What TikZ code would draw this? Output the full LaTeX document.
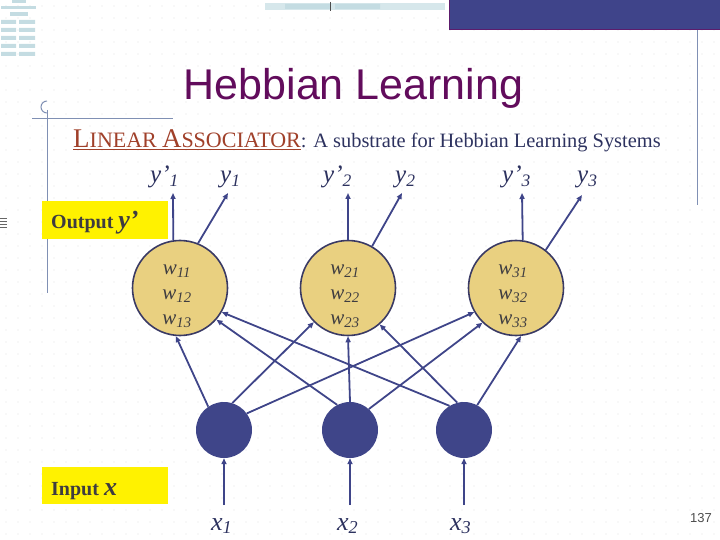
\documentclass[tikz,border=0pt]{standalone}
\usepackage{fontspec}
\setmainfont{Liberation Serif}
\newfontfamily\titlefont{Liberation Sans}
\usetikzlibrary{arrows.meta, positioning, calc}
\definecolor{netblue}{RGB}{63,69,137}
\definecolor{netedge}{RGB}{58,58,100}
\definecolor{wfill}{RGB}{233,208,128}
\definecolor{titlepurple}{RGB}{98,12,92}
\definecolor{subred}{RGB}{160,64,42}
\definecolor{subslate}{RGB}{45,50,95}
\definecolor{decoline}{RGB}{128,144,180}
\definecolor{labeltext}{RGB}{62,60,64}
\definecolor{griddot}{RGB}{226,226,226}
\definecolor{barblue}{RGB}{63,68,138}
\definecolor{barrim}{RGB}{92,28,108}
\definecolor{thumb}{RGB}{196,220,226}
\tikzset{
  outneuron/.style={circle, draw=netedge, line width=1.6pt, fill=wfill,
                    minimum size=95pt, inner sep=0pt},
  inneuron/.style={circle, fill=netblue, minimum size=56pt, inner sep=0pt},
  arrow/.style={-{Triangle[length=6pt, width=5pt]}, line width=1.8pt, draw=netblue},
  wlabel/.style={font=\fontsize{21}{25}\selectfont\itshape, text=labeltext,
                 align=center, inner sep=0pt},
  ylabel/.style={font=\fontsize{25}{25}\selectfont\itshape, text=subslate,
                 anchor=base west, inner sep=0pt},
  xlabel/.style={font=\fontsize{26}{26}\selectfont\itshape, text=subslate,
                 anchor=base west, inner sep=0pt},
  tagbox/.style={fill=yellow, minimum width=126pt, minimum height=37pt, inner sep=0pt},
  tagtext/.style={font=\fontsize{20}{20}\selectfont\bfseries, text=labeltext,
                  anchor=base west, inner sep=0pt},
}
\newcommand{\wsub}[1]{w\textsubscript{\itshape #1}}
\newcommand{\capbig}[1]{{\fontsize{27}{27}\selectfont #1}}
\newcommand{\capsmall}[1]{{\fontsize{22}{22}\selectfont #1}}

\begin{document}
\begin{tikzpicture}[x=1pt, y=-1pt]
  \useasboundingbox (0,0) rectangle (720,540);
  % dotted slide background
  \foreach \i in {0,...,59}
    \foreach \j in {0,...,44}
      \fill[griddot] (6+12*\i, 6+12*\j) circle (0.6);

  % slide template
  \fill[barblue, draw=barrim, line width=1pt] (449,-1) rectangle (721,30);
  \draw[decoline, line width=1pt] (697,30) -- (697,205);
  \draw[decoline, line width=1pt] (32,119) -- (173,119);
  \draw[decoline, line width=1pt] (47,110) -- (47,293);
  \draw[decoline, line width=1pt] (47,113) arc (90:270:6);
  % faded thumbnails
  \fill[thumb] (12,0) rectangle (26,3);
  \fill[thumb] (1,6) rectangle (36,9);
  \fill[thumb] (10,12) rectangle (28,16);
  \foreach \r in {20,28,36,44,52}
    \fill[thumb] (1,\r) rectangle (16,\r+4) (19,\r) rectangle (35,\r+4);
  \fill[thumb!70] (265,3) rectangle (445,10);
  \fill[thumb] (285,4) rectangle (330,9) (335,4) rectangle (380,9);
  \draw[black!70, line width=0.8pt] (330,2) -- (330,11);
  \foreach \r in {218,221,224,227}
    \draw[black!60, line width=0.8pt] (0,\r) -- (7,\r);

  % title and subtitle
  \node[font=\titlefont\fontsize{43}{43}\selectfont, text=titlepurple,
        anchor=base, inner sep=0pt] (title) at (353.5,100) {Hebbian Learning};
  \node[anchor=base west, inner sep=0pt, font=\fontsize{20.4}{20}\selectfont] (sub) at (73,148)
    {{\color{subred}\underline{\capbig{L}\capsmall{INEAR} \capbig{A}\capsmall{SSOCIATOR}}}%
     \textcolor{subslate}{: A substrate for Hebbian Learning Systems}};

  % output layer
  \node[outneuron] (out1) at (180,288) {};
  \node[outneuron] (out2) at (348,288) {};
  \node[outneuron] (out3) at (516,288) {};
  \node[wlabel] (w1) at ([shift={(-3,8)}]out1.center) {\wsub{11}\\\wsub{12}\\\wsub{13}};
  \node[wlabel] (w2) at ([shift={(-3,8)}]out2.center) {\wsub{21}\\\wsub{22}\\\wsub{23}};
  \node[wlabel] (w3) at ([shift={(-3,8)}]out3.center) {\wsub{31}\\\wsub{32}\\\wsub{33}};

  % input layer
  \node[inneuron] (in1) at (224,430) {};
  \node[inneuron] (in2) at (350,430) {};
  \node[inneuron] (in3) at (464,430) {};

  % labels
  \node[ylabel] (yp1) at (150,183) {y’\textsubscript{1}};
  \node[ylabel] (y1) at (220,183) {y\textsubscript{1}};
  \node[ylabel] (yp2) at (323,183) {y’\textsubscript{2}};
  \node[ylabel] (y2) at (395,183) {y\textsubscript{2}};
  \node[ylabel] (yp3) at (502,183) {y’\textsubscript{3}};
  \node[ylabel] (y3) at (577,183) {y\textsubscript{3}};
  \node[xlabel] (x1) at (211,530) {x\textsubscript{1}};
  \node[xlabel] (x2) at (337,530) {x\textsubscript{2}};
  \node[xlabel] (x3) at (450,530) {x\textsubscript{3}};

  \node[tagbox] (outbox) at (105,220) {};
  \node[tagtext] (outtag) at (51,229) {Output {\fontsize{26}{26}\selectfont\itshape y’}};
  \node[tagbox] (inbox) at (105,485.5) {};
  \node[tagtext] (intag) at (51,495) {Input {\fontsize{26}{26}\selectfont\itshape x}};

  \node[font=\titlefont\fontsize{13}{13}\selectfont, text=black!70, anchor=base east,
        inner sep=0pt] (page) at (712,522) {137};

  % arrow tips and tails
  \coordinate (tp1) at (173,193);
  \coordinate (ty1) at (228,193);
  \coordinate (tp2) at (348,193);
  \coordinate (ty2) at (402,193);
  \coordinate (tp3) at (522,193);
  \coordinate (ty3) at (582,195);
  \coordinate (xt1) at (224,505);
  \coordinate (xt2) at (350,505);
  \coordinate (xt3) at (464,505);

  % outputs
  \draw[arrow] (out1.98) -- (tp1);
  \draw[arrow] (out1.68) -- (ty1);
  \draw[arrow] (out2.90) -- (tp2);
  \draw[arrow] (out2.60) -- (ty2);
  \draw[arrow] (out3.82) -- (tp3);
  \draw[arrow] (out3.52) -- (ty3);

  % inputs
  \draw[arrow] (xt1) -- (in1.south);
  \draw[arrow] (xt2) -- (in2.south);
  \draw[arrow] (xt3) -- (in3.south);

  % weights
  \draw[arrow] (in1.124) -- (out1.265);
  \draw[arrow] (in2.117) -- (out1.319);
  \draw[arrow] (in3.121) -- (out1.330);
  \draw[arrow] (in1.73) -- (out2.225);
  \draw[arrow] (in2.north) -- (out2.south);
  \draw[arrow] (in3.104) -- (out2.311);
  \draw[arrow] (in1.36) -- (out3.210);
  \draw[arrow] (in2.48) -- (out3.226);
  \draw[arrow] (in3.62) -- (out3.276);
\end{tikzpicture}
\end{document}
